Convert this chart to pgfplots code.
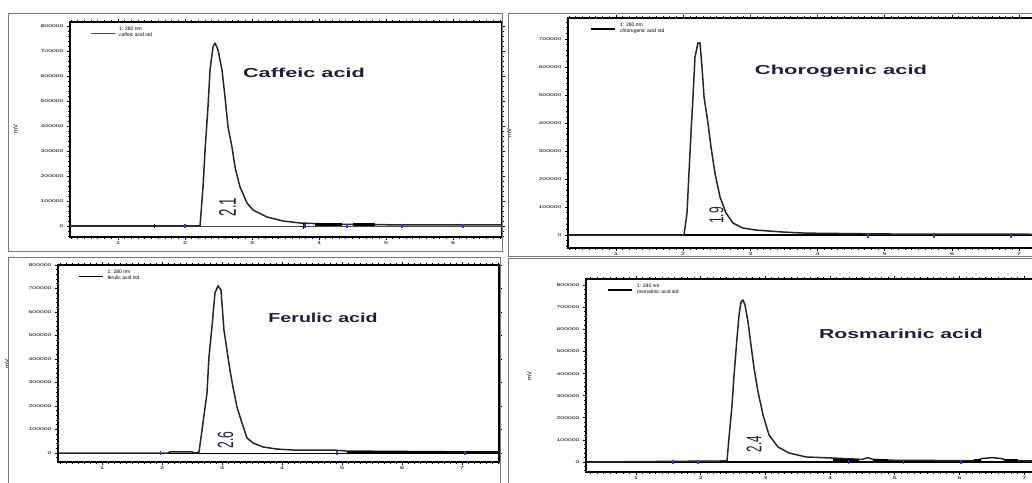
\documentclass[border=0pt]{standalone}
\usepackage{pgfplots}
\pgfplotsset{compat=1.18}
\usepackage{fontspec}
\setmainfont{Liberation Sans}
\definecolor{txtnavy}{RGB}{28,32,58}
\definecolor{boxgray}{RGB}{120,120,120}
\definecolor{mkblue}{RGB}{50,50,235}
\pgfplotsset{
 chrom/.style={
  scale only axis, anchor=south west,
  axis line style={black, line width=0.7pt},
  tick align=outside, tick style={black, line width=0.4pt},
  major tick length=1.6pt, minor tick length=1pt,
  minor x tick num=9, minor y tick num=4,
  xtick distance=1, ytick distance=1,
  xticklabel style={font=\fontsize{2.2}{2.5}\selectfont, xscale=1.6, inner sep=0.6pt},
  yticklabel style={font=\fontsize{2}{2.4}\selectfont, xscale=1.7, inner sep=0.8pt},
  yticklabel={\pgfmathtruncatemacro\myt{\tick}\ifnum\myt=0 0\else\myt00000\fi},
  /pgf/number format/assume math mode=true,
  ylabel={mV},
  ylabel style={font=\fontsize{3}{3}\selectfont, at={(axis description cs:-0.105,0.5)}},
  legend style={draw=none, fill=none, at={(0.045,1)}, anchor=north west,
    font=\fontsize{2.5}{2.8}\selectfont, cells={align=left}, inner sep=0.3pt},
  legend image code/.code={\draw[#1] (0cm,0cm) -- (0.42cm,0cm);},
  clip=true,
 },
 trace/.style={black!85, line width=0.75pt, line join=round},
 base/.style={black, line width=0.4pt},
 bmark/.style={only marks, mark=|, mark size=1.2pt, mkblue, mark options={line width=0.7pt}},
}
\newcommand{\pname}[1]{\fontsize{6.5}{7}\selectfont\bfseries #1}
\begin{document}
\begin{tikzpicture}
\useasboundingbox (0,0) rectangle (516pt,241pt);
\clip (0,0) rectangle (516pt,241pt);

% ---------- Panel 1: Caffeic acid ----------
\begin{axis}[chrom, at={(35pt,122.5pt)}, width=216pt, height=107.5pt,
  xmin=0.284, xmax=6.73, ymin=-0.44, ymax=8.16]
\addplot[base, black!70] coordinates {(0,0) (8,0)};
\addplot[trace] coordinates {
(0.284,0) (2.224,0) (2.269,1.56) (2.299,3.04) (2.343,4.76) (2.373,6.24)
(2.418,7.16) (2.448,7.32) (2.493,7.04) (2.552,6.24) (2.597,5.16) (2.642,3.96)
(2.701,3.16) (2.746,2.36) (2.821,1.56) (2.925,0.92) (3.015,0.64) (3.224,0.36)
(3.463,0.2) (3.716,0.12) (4.2,0.07) (5.0,0.05) (6.73,0.04)};
\addlegendentry{1: 280 nm\\caffeic acid std}
\addplot[black, line width=1.3pt, forget plot] coordinates {(3.94,0.05) (4.34,0.05)};
\addplot[black, line width=1.3pt, forget plot] coordinates {(4.51,0.06) (4.84,0.06)};
\addplot[only marks, mark=+, mark size=1.5pt, black, forget plot] coordinates {(3.76,0)};
\addplot[only marks, mark=|, mark size=1pt, black, forget plot] coordinates {(1.55,0)};
\addplot[bmark, forget plot] coordinates {(2.0,0) (3.79,0) (4.42,0) (5.24,0) (6.15,0)};
\end{axis}

% ---------- Panel 2: Chorogenic acid ----------
\begin{axis}[chrom, at={(284pt,117pt)}, width=236pt, height=115pt,
  xmin=0.286, xmax=7.31, ymin=-0.46, ymax=7.75]
\addplot[base, line width=1pt] coordinates {(0,0) (8,0)};
\addplot[trace] coordinates {
(0.286,0) (2.012,0) (2.057,0.79) (2.086,2.21) (2.116,3.64) (2.146,4.93)
(2.176,6.36) (2.220,6.86) (2.250,6.86) (2.280,6.0) (2.310,4.93) (2.369,4.0)
(2.414,3.14) (2.473,2.21) (2.548,1.36) (2.637,0.79) (2.741,0.43) (2.890,0.25)
(3.083,0.18) (3.485,0.11) (3.827,0.07) (5.0,0.04) (7.31,0.03)};
\addlegendentry{1: 280 nm\\chlorogenic acid std}
\addplot[bmark, forget plot] coordinates {(4.75,0) (5.73,0) (6.88,0)};
\end{axis}

% ---------- Panel 3: Ferulic acid ----------
\begin{axis}[chrom, at={(29pt,10pt)}, width=220.5pt, height=98.5pt,
  xmin=0.267, xmax=7.617, ymin=-0.38, ymax=8.0,
  ylabel style={at={(axis description cs:-0.095,0.5)}}]
\addplot[base] coordinates {(0,0) (8,0)};
\addplot[trace] coordinates {
(0.267,0) (2.10,0) (2.13,0.05) (2.5,0.05) (2.55,0) (2.617,0.04) (2.683,1.28)
(2.75,2.55) (2.783,4.09) (2.833,5.36) (2.883,6.81) (2.933,7.11) (2.983,6.94)
(3.033,5.23) (3.083,4.38) (3.133,3.53) (3.183,2.81) (3.25,1.96) (3.333,1.28)
(3.417,0.64) (3.517,0.43) (3.683,0.26) (3.917,0.17) (4.183,0.13) (4.85,0.13)
(5.083,0.085) (7.617,0.04)};
\addlegendentry{1: 280 nm\\ferulic acid std}
\addplot[black, line width=1.2pt, forget plot] coordinates {(5.08,0.04) (7.62,0.04)};
\addplot[bmark, forget plot] coordinates {(1.98,0) (4.92,0) (7.05,0)};
\end{axis}

% ---------- Panel 4: Rosmarinic acid ----------
\begin{axis}[chrom, at={(293pt,5pt)}, width=227pt, height=96.5pt,
  xmin=0.227, xmax=7.244, ymin=-0.45, ymax=8.28]
\addplot[base, line width=0.8pt] coordinates {(0,0) (8,0)};
\addplot[trace] coordinates {
(0.227,0) (2.406,0.05) (2.437,1.09) (2.484,2.58) (2.515,3.94) (2.561,5.61)
(2.592,6.65) (2.623,7.24) (2.654,7.33) (2.685,7.10) (2.731,6.33) (2.777,5.29)
(2.824,4.25) (2.886,3.17) (2.963,2.13) (3.056,1.22) (3.195,0.68) (3.365,0.41)
(3.628,0.23) (4.045,0.18) (4.5,0.12) (4.58,0.2) (4.66,0.12) (5.0,0.08)
(6.25,0.06) (6.35,0.16) (6.5,0.2) (6.65,0.16) (6.75,0.06) (7.244,0.05)};
\addlegendentry{1: 280 nm\\rosmarinic acid std}
\addplot[black, line width=1.3pt, forget plot] coordinates {(4.04,0.06) (4.45,0.06)};
\addplot[black, line width=1.3pt, forget plot] coordinates {(4.66,0.06) (4.89,0.06)};
\addplot[black, line width=1.3pt, forget plot] coordinates {(6.22,0.06) (6.33,0.06)};
\addplot[black, line width=1.3pt, forget plot] coordinates {(6.69,0.06) (6.9,0.06)};
\addplot[bmark, forget plot] coordinates {(1.57,0) (1.96,0) (4.28,0) (5.13,0) (6.02,0)};
\end{axis}

% ---------- panel frames ----------
\begin{scope}[draw=boxgray, line width=0.45pt, double=boxgray!35, double distance=0.7pt]
\draw (4pt,115.5pt) rectangle (251pt,234.5pt);
\draw (254pt,113pt) rectangle (530pt,234.5pt);
\draw (4pt,-6pt) rectangle (250pt,112.5pt);
\draw (254pt,-6pt) rectangle (530pt,112pt);
\end{scope}

% ---------- labels ----------
\node[txtnavy] at (152pt,204.5pt) {\scalebox{1.67}[1]{\pname{Caffeic acid}}};
\node[txtnavy] at (420.5pt,205.5pt) {\scalebox{1.69}[1]{\pname{Chorogenic acid}}};
\node[txtnavy] at (161.5pt,82pt) {\scalebox{1.51}[1]{\pname{Ferulic acid}}};
\node[txtnavy] at (450.5pt,74pt) {\scalebox{1.63}[1]{\pname{Rosmarinic acid}}};

\node[txtnavy, rotate=90, inner sep=0] at (113.75pt,137.5pt) {\scalebox{0.55}[1]{\fontsize{12}{12}\selectfont 2.1}};
\node[txtnavy, rotate=90, inner sep=0] at (358.25pt,133.25pt) {\scalebox{0.6}[1]{\fontsize{10}{10}\selectfont 1.9}};
\node[txtnavy, rotate=90, inner sep=0] at (112.75pt,21pt) {\scalebox{0.55}[1]{\fontsize{11}{11}\selectfont 2.6}};
\node[txtnavy, rotate=90, inner sep=0] at (377pt,19pt) {\scalebox{0.55}[1]{\fontsize{10.5}{10.5}\selectfont 2.4}};
\end{tikzpicture}
\end{document}
